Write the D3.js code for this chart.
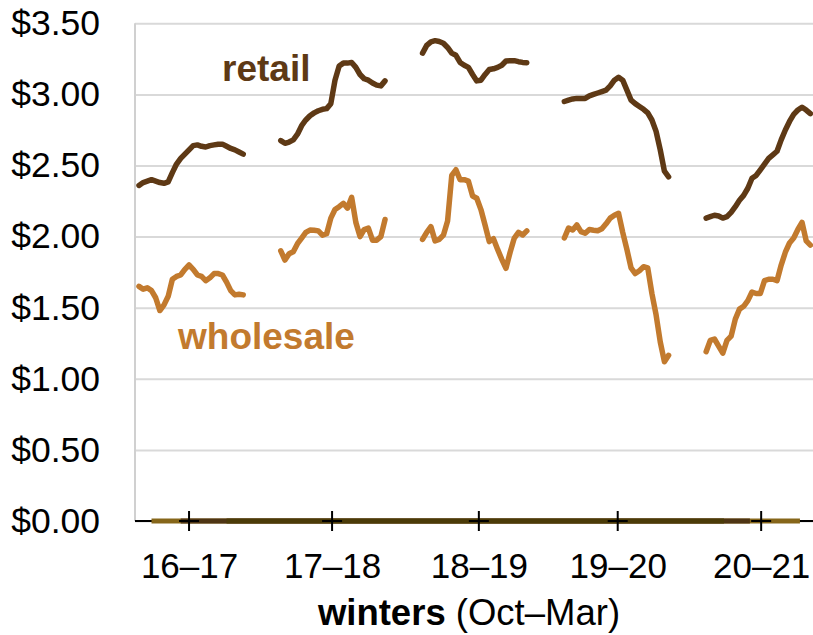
<!DOCTYPE html>
<html><head><meta charset="utf-8">
<script src="https://cdn.jsdelivr.net/npm/d3@7"></script>
<style>body{margin:0;background:#fff}svg{display:block}</style>
</head><body><svg id="c" width="813" height="635"></svg>
<script>
// ---- data ----
const winters = ["16–17", "17–18", "18–19", "19–20", "20–21"];
const slotsPerWinter = 34; // 26 weekly points + blank slots between winters
const winterTickIndex = [12, 46.3, 81.5, 114.8, 149.2];
const yTicks = [0, 0.5, 1, 1.5, 2, 2.5, 3, 3.5];

const retail1617 = [2.36,2.38,2.39,2.40,2.39,2.38,2.375,2.385,2.45,2.51,2.55,2.58,2.61,2.64,2.645,2.635,2.63,2.64,2.645,2.65,2.65,2.635,2.62,2.61,2.595,2.58];
const retail1718 = [2.675,2.656,2.665,2.68,2.72,2.78,2.82,2.85,2.87,2.885,2.895,2.90,2.935,3.10,3.20,3.22,3.22,3.225,3.19,3.14,3.11,3.10,3.08,3.065,3.06,3.095];
const retail1819 = [3.29,3.345,3.37,3.378,3.372,3.36,3.33,3.29,3.275,3.225,3.205,3.19,3.14,3.095,3.10,3.14,3.175,3.18,3.19,3.205,3.235,3.237,3.237,3.23,3.225,3.222];
const retail1920 = [2.95,2.96,2.968,2.972,2.972,2.972,2.99,3.00,3.01,3.02,3.03,3.06,3.10,3.12,3.10,3.03,2.96,2.935,2.915,2.895,2.87,2.82,2.74,2.61,2.46,2.42];
const retail2021 = [2.13,2.14,2.15,2.145,2.13,2.14,2.17,2.21,2.255,2.29,2.34,2.41,2.43,2.47,2.51,2.55,2.575,2.60,2.68,2.75,2.81,2.86,2.89,2.91,2.89,2.865];

const wholesale1617 = [1.65,1.63,1.64,1.62,1.57,1.48,1.52,1.58,1.70,1.72,1.73,1.77,1.80,1.77,1.73,1.72,1.69,1.71,1.74,1.74,1.73,1.68,1.62,1.59,1.595,1.59];
const wholesale1718 = [1.90,1.835,1.88,1.894,1.95,1.99,2.03,2.046,2.045,2.04,2.01,2.02,2.13,2.19,2.21,2.234,2.20,2.276,2.10,2.00,2.05,2.06,1.975,1.975,2.0,2.12];
const wholesale1819 = [1.98,2.03,2.07,1.97,1.98,2.01,2.11,2.43,2.47,2.40,2.40,2.39,2.285,2.27,2.19,2.08,1.965,1.985,1.91,1.84,1.777,1.89,1.99,2.03,2.011,2.04];
const wholesale1920 = [1.99,2.06,2.046,2.082,2.035,2.023,2.05,2.045,2.041,2.055,2.09,2.13,2.15,2.164,2.03,1.91,1.78,1.74,1.76,1.788,1.78,1.60,1.45,1.26,1.12,1.165];
const wholesale2021 = [1.19,1.27,1.28,1.23,1.18,1.27,1.30,1.42,1.49,1.51,1.55,1.61,1.60,1.60,1.69,1.70,1.70,1.69,1.80,1.89,1.955,1.99,2.05,2.10,1.97,1.94];

const retail = [retail1617, retail1718, retail1819, retail1920, retail2021];
const wholesale = [wholesale1617, wholesale1718, wholesale1819, wholesale1920, wholesale2021];

// zero-valued series lying on the axis (start / end index)
const zeroStart = [3, 10, 21];
const zeroEnd = [158.5, 146.5, 140.3];

// ---- styles / layout ----
const zeroColors = ["#86661a", "#4e3514", "#4b3b08"];
const retailColor = "#5e3915", wholesaleColor = "#c27a2e";
const L = 135, R = 813, T = 23.3, B = 521;
const font = "'Liberation Sans', Arial, sans-serif";

const svg = d3.select("#c");
const x = d3.scaleLinear().domain([0, 161]).range([139, 139 + 161 * 4.17]);
const y = d3.scaleLinear().domain([0, 3.5]).range([B, T]);

svg.append("defs").append("clipPath").attr("id", "clip")
  .append("rect").attr("x", L).attr("y", 0).attr("width", R - L).attr("height", 635);

// gridlines
const grid = svg.append("g").attr("transform", `translate(${L},0)`)
  .call(d3.axisLeft(y).tickValues(yTicks).tickSize(-(R - L)).tickFormat(""));
grid.select(".domain").remove();
grid.selectAll("line").attr("stroke", "#d9d9d9").attr("stroke-width", 2);

// y labels
const ya = svg.append("g").attr("transform", `translate(${L},0)`)
  .call(d3.axisLeft(y).tickValues(yTicks).tickSize(0).tickPadding(35)
    .tickFormat(d => "$" + d3.format(".2f")(d)));
ya.select(".domain").remove();
ya.selectAll("text").attr("font-family", font).attr("font-size", 35.5).attr("fill", "#000");

// y axis line
svg.append("line").attr("x1", L).attr("x2", L).attr("y1", T).attr("y2", B)
  .attr("stroke", "#d0d0d0").attr("stroke-width", 2);

// x axis
const xa = svg.append("g").attr("transform", `translate(0,${B})`)
  .call(d3.axisBottom(x).tickValues(winterTickIndex).tickSize(10)
    .tickFormat((d, i) => winters[i]));
xa.select(".domain").attr("d", `M${L},0H${R}`).attr("stroke", "#000").attr("stroke-width", 2);
xa.selectAll(".tick line").remove();
xa.selectAll("text").attr("font-family", font).attr("font-size", 35).attr("fill", "#000")
  .attr("y", 32).attr("dy", "0.71em");

// zero series
const plot = svg.append("g").attr("clip-path", "url(#clip)");
zeroStart.forEach((s, k) => {
  plot.append("path")
    .attr("d", d3.line().x(d => x(d)).y(() => y(0))([s, zeroEnd[k]]))
    .attr("stroke", zeroColors[k]).attr("stroke-width", 5).attr("fill", "none");
});

// tick crosses
const crosses = svg.append("g");
winterTickIndex.forEach(t => {
  crosses.append("line").attr("x1", x(t)).attr("x2", x(t)).attr("y1", B - 10).attr("y2", B + 10)
    .attr("stroke", "#000").attr("stroke-width", 2);
  crosses.append("line").attr("x1", x(t) - 10).attr("x2", x(t) + 10).attr("y1", B).attr("y2", B)
    .attr("stroke", "#000").attr("stroke-width", 2);
});

// series
const line = d3.line().x(d => x(d.i)).y(d => y(d.v));
function drawSeries(arr, color) {
  arr.forEach((vals, k) => {
    const pts = vals.map((v, j) => ({ i: k * slotsPerWinter + j, v }));
    plot.append("path").attr("d", line(pts)).attr("fill", "none")
      .attr("stroke", color).attr("stroke-width", 5.5)
      .attr("stroke-linejoin", "round").attr("stroke-linecap", "round");
  });
}
drawSeries(retail, retailColor);
drawSeries(wholesale, wholesaleColor);

// annotations
svg.append("text").attr("x", 222).attr("y", 81).text("retail")
  .attr("font-family", font).attr("font-size", 37).attr("font-weight", "bold").attr("fill", retailColor);
svg.append("text").attr("x", 178).attr("y", 349).text("wholesale")
  .attr("font-family", font).attr("font-size", 37).attr("font-weight", "bold").attr("fill", wholesaleColor);

// axis title
const title = svg.append("text").attr("x", 469).attr("y", 625).attr("text-anchor", "middle")
  .attr("font-family", font).attr("font-size", 36.5).attr("fill", "#000");
title.append("tspan").attr("font-weight", "bold").text("winters");
title.append("tspan").text(" (Oct–Mar)");
</script></body></html>
